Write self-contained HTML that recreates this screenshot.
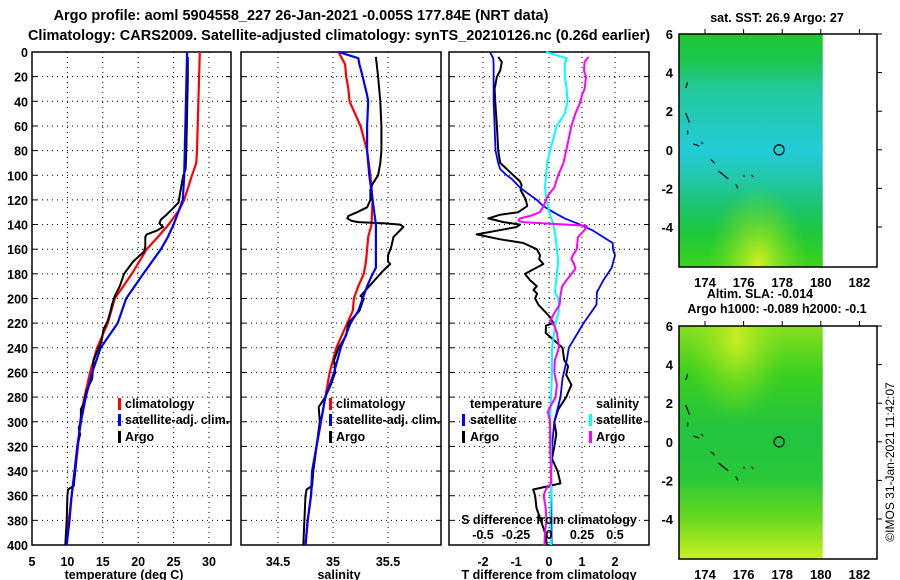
<!DOCTYPE html>
<html><head><meta charset="utf-8">
<style>
html,body{margin:0;padding:0;background:#fff;}
svg{display:block;font-family:"Liberation Sans",Arial,sans-serif;font-weight:bold;}
</style></head>
<body>
<svg id="chart" width="900" height="580" viewBox="0 0 900 580" xmlns="http://www.w3.org/2000/svg">
<defs>
<linearGradient id="sstGrad" x1="0" y1="0" x2="0" y2="1">
<stop offset="0" stop-color="#1ec832"/>
<stop offset="0.12" stop-color="#1cc650"/>
<stop offset="0.22" stop-color="#22c896"/>
<stop offset="0.33" stop-color="#22cab0"/>
<stop offset="0.5" stop-color="#22ccd8"/>
<stop offset="0.62" stop-color="#22c8a8"/>
<stop offset="0.75" stop-color="#1cc468"/>
<stop offset="0.86" stop-color="#1ec838"/>
<stop offset="1" stop-color="#3cd41e"/>
</linearGradient>
<radialGradient id="sstYellow" cx="0.55" cy="1" r="0.35">
<stop offset="0" stop-color="#d8f020" stop-opacity="1"/>
<stop offset="1" stop-color="#80e020" stop-opacity="0"/>
</radialGradient>
<linearGradient id="slaGrad" x1="0" y1="0" x2="0" y2="1">
<stop offset="0" stop-color="#88e020"/>
<stop offset="0.2" stop-color="#3cd01e"/>
<stop offset="0.45" stop-color="#22c440"/>
<stop offset="0.65" stop-color="#28c838"/>
<stop offset="0.82" stop-color="#66d820"/>
<stop offset="1" stop-color="#c8f020"/>
</linearGradient>
<radialGradient id="slaYellow" cx="0.4" cy="0.05" r="0.35">
<stop offset="0" stop-color="#c8f020" stop-opacity="1"/>
<stop offset="1" stop-color="#88e020" stop-opacity="0"/>
</radialGradient>
</defs>
<g id="titles">
<text x="301" y="20" font-size="14.5" text-anchor="middle">Argo profile: aoml 5904558_227 26-Jan-2021 -0.005S 177.84E (NRT data)</text>
<text x="339" y="40" font-size="14.5" text-anchor="middle">Climatology: CARS2009. Satellite-adjusted climatology: synTS_20210126.nc (0.26d earlier)</text>
</g>
<g id="panels"></g>
<g id="maps"></g>
<text x="0" y="0" font-size="12" font-weight="normal" text-anchor="middle" transform="translate(894,462) rotate(-90)">©IMOS 31-Jan-2021 11:42:07</text>
</svg>
<script>
// ---- data ----
const depthTicks = [0,20,40,60,80,100,120,140,160,180,200,220,240,260,280,300,320,340,360,380,400];
const tempTicks = [5,10,15,20,25,30];
const salTicks = [34.5,35,35.5];
const salTickLabels = ["34.5","35","35.5"];
const dtTicks = [-2,-1,0,1,2];
const dsTicks = [-0.5,-0.25,0,0.25,0.5];
const dsTickLabels = ["-0.5","-0.25","0","0.25","0.5"];

const tClimDepth = [0,80,90,100,120,128,140,150,160,180,200,220,240,260,280,300,320,340,360,380,400];
const tClimVal   = [28.7,28.3,28.2,27.6,26.5,25.8,24.3,22.8,21.2,19.1,16.7,15.7,14.2,13.2,12.4,11.8,11.5,11.1,10.6,10.2,9.9];
const tSatDepth = [0,100,120,140,150,160,180,200,220,240,260,280,300,320,340,360,380,400];
const tSatVal   = [26.9,26.5,26.3,25.0,24.2,23.2,20.7,18.3,17.1,14.7,13.5,12.6,11.9,11.4,11.0,10.6,10.3,9.9];
const tArgoDepth = [4,20,80,95,100,105,115,122,128,132,136,139,142,145,148,150,158,162,170,180,190,198,205,210,218,225,235,250,265,275,285,290,300,305,310,320,340,352,355,360,380,400];
const tArgoVal   = [27.0,27.0,26.8,26.7,26.4,26.2,25.9,25.7,24.7,24.0,23.2,23.0,23.5,22.6,21.2,21.0,21.0,20.8,19.3,18.0,17.4,16.7,16.3,16.1,15.7,15.1,14.8,13.7,13.5,12.7,12.3,11.9,11.9,11.6,11.8,11.4,11.1,10.9,10.1,10.0,9.9,9.7];

const sClimDepth = [0,5,10,20,30,40,50,60,70,80,100,120,140,150,160,170,180,190,200,210,220,240,260,280,300,320,340,360,380,400];
const sClimVal   = [35.05,35.08,35.11,35.12,35.14,35.15,35.20,35.25,35.28,35.31,35.34,35.36,35.35,35.32,35.31,35.30,35.28,35.23,35.19,35.18,35.13,35.03,34.97,34.93,34.89,34.85,34.82,34.80,34.77,34.75];
const sSatDepth = [0,5,10,20,35,40,60,80,100,120,140,160,175,182,190,200,210,220,240,260,280,300,320,340,360,380,400];
const sSatVal   = [35.05,35.23,35.24,35.27,35.31,35.32,35.31,35.31,35.33,35.36,35.39,35.39,35.39,35.35,35.31,35.27,35.23,35.16,35.07,35.01,34.93,34.89,34.85,34.81,34.80,34.77,34.75];
const sArgoDepth = [4,20,40,60,80,90,100,107,112,120,126,130,133,135,137,138,139,140,142,150,158,165,170,172,178,185,192,198,200,210,220,230,240,250,260,270,280,288,300,320,340,352,355,360,400];
const sArgoVal   = [35.39,35.41,35.43,35.44,35.44,35.43,35.41,35.36,35.34,35.34,35.31,35.22,35.14,35.13,35.17,35.23,35.46,35.61,35.64,35.55,35.53,35.50,35.50,35.52,35.45,35.38,35.31,35.25,35.28,35.24,35.14,35.12,35.05,35.01,35.02,34.98,34.93,34.87,34.88,34.85,34.82,34.81,34.76,34.75,34.73];

const dtSatDepth = [0,5,10,20,40,60,80,90,95,100,103,110,115,120,125,130,135,140,145,155,160,165,175,185,195,205,220,240,250,265,280,300,320,340,360,400];
const dtSatVal   = [-1.79,-1.69,-1.68,-1.68,-1.68,-1.65,-1.62,-1.54,-1.48,-1.28,-1.13,-0.88,-0.63,-0.37,-0.17,0.13,0.48,0.94,1.34,1.93,1.94,2.0,1.9,1.65,1.45,1.44,1.05,0.6,0.54,0.41,0.35,0.16,0.09,0.07,0.07,0.08];
const dtArgoDepth = [4,8,15,20,30,40,60,80,90,95,100,105,108,112,120,125,130,132,135,138,140,142,145,148,152,155,160,165,168,172,180,185,190,193,196,200,205,215,220,222,228,232,240,250,255,262,270,280,290,300,310,320,330,340,350,352,355,360,370,380,390,400];
const dtArgoVal   = [-1.54,-1.43,-1.48,-1.58,-1.65,-1.63,-1.58,-1.54,-1.48,-1.28,-1.08,-0.88,-0.83,-0.86,-0.70,-0.66,-0.93,-1.48,-1.84,-1.38,-0.88,-0.98,-1.58,-2.19,-1.48,-0.78,-0.37,-0.27,-0.30,-0.17,-0.73,-0.58,-0.37,-0.47,-0.36,-0.42,-0.32,0.03,0.13,-0.09,-0.10,0.07,0.41,0.46,0.58,0.52,0.68,0.52,0.28,0.16,0.22,0.16,0.09,0.26,0.35,0.03,-0.48,-0.42,-0.38,-0.25,-0.12,-0.06];
const dsSatDepth = [0,5,10,20,30,40,50,60,70,80,90,100,110,120,130,140,150,160,170,180,195,200,210,220,240,260,280,300,320,340,360,380,400];
const dsSatVal   = [-0.023,0.134,0.12,0.12,0.134,0.14,0.12,0.058,0.033,0.008,-0.013,-0.023,-0.03,-0.018,0.002,0.033,0.05,0.06,0.07,0.06,0.045,0.071,0.075,0.05,0.023,0.023,0.015,0.008,0.015,0.015,0.015,0.008,0.015];
const dsArgoDepth = [4,8,15,20,30,35,40,50,60,70,80,90,100,105,110,115,120,125,130,133,135,137,138,140,141,142,145,150,160,165,168,172,176,185,190,197,205,212,218,222,228,238,242,250,260,270,280,288,292,300,320,340,350,355,360,370,380,390,400];
const dsArgoVal   = [0.30,0.27,0.265,0.28,0.27,0.25,0.24,0.20,0.17,0.15,0.13,0.11,0.07,0.054,0.04,0.002,-0.023,-0.04,-0.07,-0.14,-0.22,-0.23,-0.20,0.134,0.285,0.285,0.265,0.22,0.21,0.18,0.17,0.19,0.20,0.134,0.10,0.087,0.08,0.04,0.008,0.04,0.06,0.075,0.07,0.045,0.04,0.06,0.05,0.008,-0.008,0.008,0.008,0.015,0.015,-0.025,-0.04,-0.025,-0.02,-0.03,-0.035];

const mapLonTicks = [174,176,178,180,182];
const mapLatTicks = [6,4,2,0,-2,-4];
const argoLon = 177.84;
const argoLat = -0.005;

// ---- helpers ----
const NS = "http://www.w3.org/2000/svg";
function mk(tag, attrs, parent){ const e=document.createElementNS(NS,tag); for(const k in attrs) e.setAttribute(k,attrs[k]); parent.appendChild(e); return e; }
const yTop = 52, yBot = 545;
function yD(d){ return yTop + (yBot-yTop)*d/400; }
const panels = document.getElementById('panels');

const P1 = {x0:32,x1:231, vmin:5, vmax:5+199/7.08};
const P2 = {x0:241,x1:441, vmin:35-92/110, vmax:35+108/110};
const P3 = {x0:449,x1:649, vmin:-100/33, vmax:100/33};
function xf(P){ return v => P.x0 + (v-P.vmin)/(P.vmax-P.vmin)*(P.x1-P.x0); }
const xT = xf(P1), xS = xf(P2), xDT = xf(P3);
const xDS = v => xDT(v*4);

function frame(P, ticks, fx, labels, name){
  const g = mk('g',{},panels);
  
  
  depthTicks.forEach(d=>{
    if(d>0 && d<400){
      const l = mk('line',{x1:P.x0,x2:P.x1,y1:yD(d),y2:yD(d),stroke:'#000','stroke-width':1,'stroke-dasharray':'1,4'},g);
      
      
      mk('line',{x1:P.x0,x2:P.x0+5,y1:yD(d),y2:yD(d),stroke:'#000'},g);
      mk('line',{x1:P.x1-5,x2:P.x1,y1:yD(d),y2:yD(d),stroke:'#000'},g);
    }
  });
  ticks.forEach((t,i)=>{
    const x = fx(t);
    if(x>P.x0+2 && x<P.x1-2){
      const l = mk('line',{x1:x,x2:x,y1:yTop,y2:yBot,stroke:'#000','stroke-width':1,'stroke-dasharray':'1,4'},g);
      
      
    }
    const tx = mk('text',{x:x,y:566,'font-size':12.5,'text-anchor':'middle'},g);
    tx.textContent = labels ? labels[i] : String(t);
    
    
  });
  const r = mk('rect',{x:P.x0,y:yTop,width:P.x1-P.x0,height:yBot-yTop,fill:'none',stroke:'#000','stroke-width':1.5},g);
  
  
  return g;
}
function series(g, depths, vals, fx, color, w, name){
  const pts = depths.map((d,i)=>fx(vals[i]).toFixed(1)+','+yD(d).toFixed(1)).join(' ');
  const p = mk('polyline',{points:pts,fill:'none',stroke:color,'stroke-width':w,'stroke-linejoin':'round'},g);
  
  
}
function text(g,x,y,s,name,size,anchor,fill){
  const t = mk('text',{x:x,y:y,'font-size':size||12.5,'text-anchor':anchor||'start',fill:fill||'#000'},g);
  t.textContent = s;
  
  
  return t;
}
function legendBar(g,x,y,color,name){
  const r = mk('rect',{x:x,y:y-10,width:3,height:12,fill:color},g);
  
  
}

// depth labels
depthTicks.forEach(d=>{
  text(panels, 28, yD(d)+5, String(d), 'y-tick-label', 12.5, 'end');
});

// Panel 1
const g1 = frame(P1, tempTicks, xT, null, 'temperature');
series(g1, tClimDepth, tClimVal, xT, '#ff0000', 2.2, 'temperature-climatology-line');
series(g1, tArgoDepth, tArgoVal, xT, '#000000', 2, 'temperature-argo-line');
series(g1, tSatDepth, tSatVal, xT, '#0000ff', 2.2, 'temperature-satellite-line');
text(g1, 124, 579, 'temperature (deg C)', 'x-axis-title', 12.5, 'middle');
legendBar(g1,118,408,'#ff0000','legend-climatology-marker');
text(g1,125,408,'climatology','legend-climatology');
legendBar(g1,118,424,'#0000ff','legend-satellite-marker');
text(g1,125,424,'satellite-adj. clim.','legend-satellite');
legendBar(g1,118,441,'#000000','legend-argo-marker');
text(g1,125,441,'Argo','legend-argo');

// Panel 2
const g2 = frame(P2, salTicks, xS, salTickLabels, 'salinity');
series(g2, sClimDepth, sClimVal, xS, '#ff0000', 2.2, 'salinity-climatology-line');
series(g2, sArgoDepth, sArgoVal, xS, '#000000', 2, 'salinity-argo-line');
series(g2, sSatDepth, sSatVal, xS, '#0000ff', 2.2, 'salinity-satellite-line');
text(g2, 339, 579, 'salinity', 'x-axis-title', 12.5, 'middle');
legendBar(g2,329,408,'#ff0000','legend-climatology-marker');
text(g2,336,408,'climatology','legend-climatology');
legendBar(g2,329,424,'#0000ff','legend-satellite-marker');
text(g2,336,424,'satellite-adj. clim.','legend-satellite');
legendBar(g2,329,441,'#000000','legend-argo-marker');
text(g2,336,441,'Argo','legend-argo');

// Panel 3
const g3 = frame(P3, dtTicks, xDT, null, 'difference');
series(g3, dtArgoDepth, dtArgoVal, xDT, '#000000', 2, 'tdiff-argo-line');
series(g3, dtSatDepth, dtSatVal, xDT, '#0000ff', 1.8, 'tdiff-satellite-line');
series(g3, dsSatDepth, dsSatVal, xDS, '#00ffff', 2, 'sdiff-satellite-line');
series(g3, dsArgoDepth, dsArgoVal, xDS, '#ff00ff', 2, 'sdiff-argo-line');
text(g3, 549, 579, 'T difference from climatology', 'x-axis-title', 12.5, 'middle');
text(g3, 549, 524, 'S difference from climatology', 'sdiff-axis-title', 12.5, 'middle');
dsTicks.forEach((v,i)=>{ text(g3, xDS(v), 539, dsTickLabels[i], 'sdiff-tick-label', 12.5, 'middle'); });
text(g3,470,408,'temperature','legend-temperature-heading');
legendBar(g3,462,424,'#0000ff','legend-tsat-marker');
text(g3,470,424,'satellite','legend-tsat');
legendBar(g3,462,441,'#000000','legend-targo-marker');
text(g3,470,441,'Argo','legend-targo');
text(g3,596,408,'salinity','legend-salinity-heading');
legendBar(g3,589,424,'#00ffff','legend-ssat-marker');
text(g3,596,424,'satellite','legend-ssat');
legendBar(g3,589,441,'#ff00ff','legend-sargo-marker');
text(g3,596,441,'Argo','legend-sargo');

// ---- maps ----
const maps = document.getElementById('maps');
function drawMap(top, fillId, overlayId, title, name, titleY){
  const g = mk('g',{},maps);
  
  
  const L=679, R=877, B=top+233;
  const pxPerDeg = 19.3;
  const lonX = lon => 705 + (lon-174)*pxPerDeg;
  const latY = lat => top + (6-lat)*pxPerDeg;
  const dataR = lonX(180.1);
  const r1 = mk('rect',{x:L,y:top,width:dataR-L,height:B-top,fill:'url(#'+fillId+')'},g);
  
  
  mk('rect',{x:L,y:top,width:dataR-L,height:B-top,fill:'url(#'+overlayId+')'},g);
  const coast = [[173.0,3.2,173.1,3.5],[173.0,1.9,173.2,1.4],[173.1,1.0,173.1,0.8],[173.4,0.3,173.7,0.2],[173.8,0.4,173.9,0.3],[174.3,-0.5,174.5,-0.7],[174.7,-1.1,175.2,-1.5],[175.6,-1.8,175.7,-2.0],[176.0,-1.3,176.05,-1.4],[176.4,-1.3,176.5,-1.4]];
  coast.forEach(c=>{ const l=mk('line',{x1:lonX(c[0]),y1:latY(c[1]),x2:lonX(c[2]),y2:latY(c[3]),stroke:'#000','stroke-width':1.2},g);
    
     });
  const f = mk('rect',{x:L,y:top,width:R-L,height:B-top,fill:'none',stroke:'#000','stroke-width':1.5},g);
  
  
  mapLonTicks.forEach(lon=>{
    const x=lonX(lon);
    mk('line',{x1:x,x2:x,y1:top-5,y2:top,stroke:'#000'},g);
    text(g,x,B+20,String(lon),'lon-tick-label',13,'middle');
  });
  mapLatTicks.forEach(lat=>{
    const y=latY(lat);
    mk('line',{x1:R,x2:R+5,y1:y,y2:y,stroke:'#000'},g);
    text(g,673,y+5,String(lat),'lat-tick-label',13,'end');
  });
  const c = mk('circle',{cx:lonX(argoLon),cy:latY(argoLat),r:5,fill:'none',stroke:'#000','stroke-width':1.2},g);
  
  
  text(g,777,titleY,title,'map-title',12.5,'middle');
}
drawMap(34,'sstGrad','sstYellow','sat. SST: 26.9 Argo: 27','sst-map',22);
drawMap(326,'slaGrad','slaYellow','Argo h1000: -0.089 h2000: -0.1','sla-map',313);
text(maps,760,298,'Altim. SLA: -0.014','sla-label',12.5,'middle');
</script>
</body></html>
